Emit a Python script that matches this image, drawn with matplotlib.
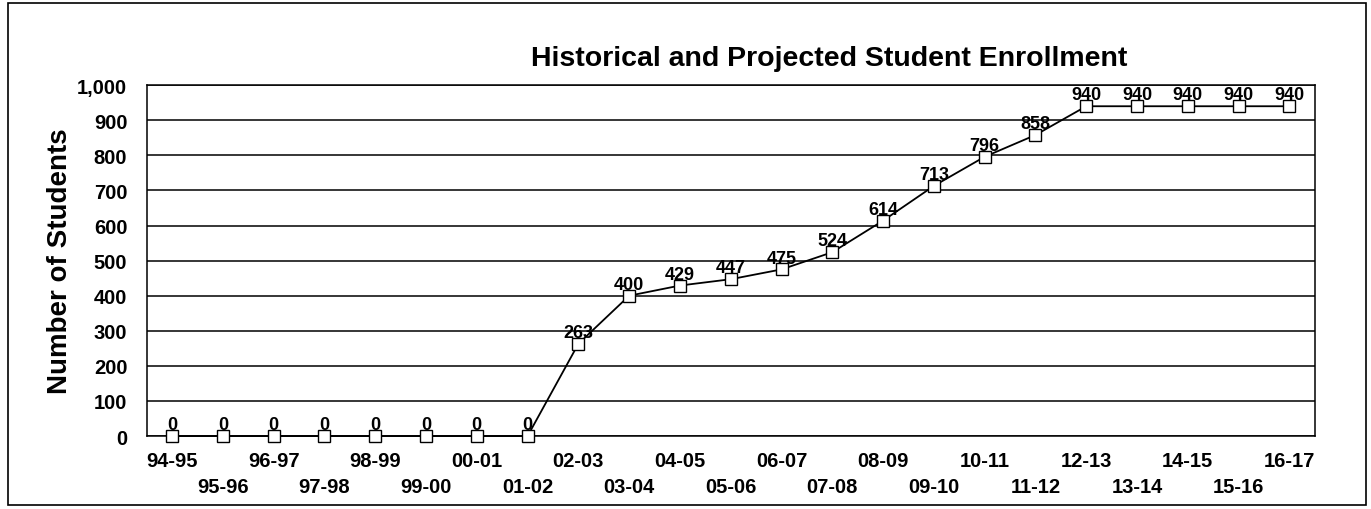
import matplotlib.pyplot as plt
from matplotlib.patches import Rectangle
from matplotlib.ticker import FuncFormatter

years = ["94-95", "95-96", "96-97", "97-98", "98-99", "99-00", "00-01", "01-02",
         "02-03", "03-04", "04-05", "05-06", "06-07", "07-08", "08-09", "09-10",
         "10-11", "11-12", "12-13", "13-14", "14-15", "15-16", "16-17"]
students = [0, 0, 0, 0, 0, 0, 0, 0,
            263, 400, 429, 447, 475, 524, 614, 713,
            796, 858, 940, 940, 940, 940, 940]

plt.rcParams['font.family'] = ['Liberation Sans', 'DejaVu Sans']

fig = plt.figure(figsize=(13.71, 5.10), dpi=100)
ax = fig.add_axes([0.107, 0.143, 0.852, 0.688])

x = list(range(len(years)))
ax.plot(x, students, color='black', lw=1.3, marker='s', ms=8.5,
        mfc='white', mec='black', mew=1.0, zorder=3, clip_on=False)

for xi, v in zip(x, students):
    ax.annotate(str(v), (xi, v), xytext=(0, 2), textcoords='offset points',
                ha='center', va='bottom', fontsize=13, fontweight='bold', zorder=4)

ax.set_xlim(-0.5, len(years) - 0.5)
ax.set_ylim(0, 1000)
ax.set_yticks(range(0, 1001, 100))
ax.yaxis.set_major_formatter(FuncFormatter(lambda v, p: f"{int(v):,}"))
ax.grid(axis='y', color='black', lw=1.1)
ax.set_axisbelow(True)

ax.set_xticks(x)
ax.set_xticklabels([y if i % 2 == 0 else "\n" + y for i, y in enumerate(years)])
ax.tick_params(axis='both', length=0, labelsize=14.5)
ax.tick_params(axis='x', pad=11)
ax.tick_params(axis='y', pad=14)
for lab in ax.get_xticklabels() + ax.get_yticklabels():
    lab.set_fontweight('bold')
    lab.set_linespacing(1.45)

for s in ax.spines.values():
    s.set_color('black')
    s.set_linewidth(1.1)

ax.set_ylabel("Number of Students", fontsize=20, fontweight='bold', labelpad=3)
fig.text(0.605, 0.885, "Historical and Projected Student Enrollment",
         ha='center', va='center', fontsize=20.5, fontweight='bold')

fig.patches.append(Rectangle((0.006, 0.008), 0.99, 0.985, transform=fig.transFigure,
                             fill=False, edgecolor='black', lw=1.2))

fig.savefig("out.png", dpi=100)
